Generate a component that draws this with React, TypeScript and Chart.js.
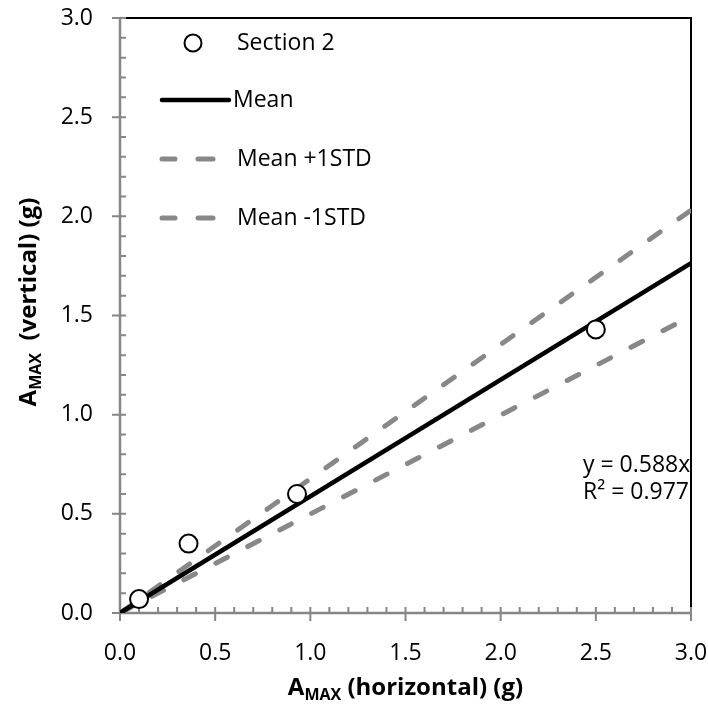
import React, { useEffect, useRef } from "react";
import { Chart, registerables } from "chart.js";

Chart.register(...registerables);

const sectionX = [0.1, 0.36, 0.93, 2.5];
const sectionY = [0.07, 0.35, 0.6, 1.43];
const lineX = [0, 3];
const meanSlope = 0.588;
const plusSlope = 0.677;
const minusSlope = 0.499;
const tickValues = [0, 0.5, 1.0, 1.5, 2.0, 2.5, 3.0];
const legendLabels = ["Section 2", "Mean", "Mean +1STD", "Mean -1STD"];
const eqText = "y = 0.588x";
const r2Text = "R² = 0.977";

const FONT = "'Open Sans', 'Noto Sans', sans-serif";
const GRAY = "#868686";
const DASH = [13, 23];

const overlay = {
  id: "overlay",
  beforeDatasetsDraw(chart: any) {
    const { ctx, chartArea: a, scales } = chart;
    const xs = scales.x;
    const ys = scales.y;
    ctx.save();
    ctx.strokeStyle = "#000";
    ctx.lineWidth = 2;
    ctx.beginPath();
    ctx.moveTo(a.left, a.top);
    ctx.lineTo(a.right, a.top);
    ctx.lineTo(a.right, a.bottom);
    ctx.stroke();
    ctx.strokeStyle = GRAY;
    ctx.lineWidth = 2.5;
    ctx.beginPath();
    ctx.moveTo(a.left, a.top);
    ctx.lineTo(a.left, a.bottom);
    ctx.lineTo(a.right, a.bottom);
    ctx.stroke();
    ctx.lineWidth = 2;
    ctx.beginPath();
    for (let i = 0; i <= 30; i++) {
      const v = i / 10;
      const major = i % 5 === 0;
      const px = xs.getPixelForValue(v);
      ctx.moveTo(px, a.bottom - 6);
      ctx.lineTo(px, a.bottom + (major ? 8 : 0));
      const py = ys.getPixelForValue(v);
      ctx.moveTo(a.left + 6, py);
      ctx.lineTo(a.left - (major ? 8 : 0), py);
    }
    ctx.stroke();
    ctx.restore();
  },
  afterDraw(chart: any) {
    const { ctx, chartArea: a } = chart;
    ctx.save();
    ctx.fillStyle = "#000";
    ctx.textBaseline = "middle";
    ctx.font = `23px ${FONT}`;
    const rows = [43, 100, 159, 218];
    ctx.beginPath();
    ctx.arc(193, rows[0], 8.5, 0, Math.PI * 2);
    ctx.fillStyle = "#fff";
    ctx.fill();
    ctx.strokeStyle = "#000";
    ctx.lineWidth = 2;
    ctx.stroke();
    ctx.fillStyle = "#000";
    ctx.fillText(legendLabels[0], 237, rows[0]);
    ctx.lineCap = "round";
    ctx.strokeStyle = "#000";
    ctx.lineWidth = 4.5;
    ctx.beginPath();
    ctx.moveTo(162, rows[1]);
    ctx.lineTo(229, rows[1]);
    ctx.stroke();
    ctx.fillText(legendLabels[1], 233, rows[1]);
    for (let k = 2; k < 4; k++) {
      ctx.strokeStyle = "#888888";
      ctx.lineWidth = 5;
      ctx.beginPath();
      ctx.moveTo(162, rows[k]);
      ctx.lineTo(175, rows[k]);
      ctx.moveTo(198, rows[k]);
      ctx.lineTo(213, rows[k]);
      ctx.stroke();
      ctx.fillText(legendLabels[k], 237, rows[k]);
    }
    ctx.fillText(eqText, 583, 465);
    ctx.fillText(r2Text, 583, 492);
    ctx.textBaseline = "alphabetic";
    const big = `bold 24px ${FONT}`;
    const small = `bold 16px ${FONT}`;
    const drawTitle = (rest: string, cx: number, cy: number) => {
      ctx.font = big;
      const wA = ctx.measureText("A").width;
      const wR = ctx.measureText(rest).width;
      ctx.font = small;
      const wS = ctx.measureText("MAX").width;
      const total = wA + wS + wR;
      let x = cx - total / 2;
      ctx.font = big;
      ctx.fillText("A", x, cy);
      x += wA;
      ctx.font = small;
      ctx.fillText("MAX", x, cy + 5);
      x += wS;
      ctx.font = big;
      ctx.fillText(rest, x, cy);
    };
    drawTitle(" (horizontal) (g)", (a.left + a.right) / 2, 695);
    ctx.save();
    ctx.translate(36, 302);
    ctx.rotate(-Math.PI / 2);
    drawTitle("  (vertical) (g)", 0, 0);
    ctx.restore();
    ctx.restore();
  },
};

const zeroPad = (s: any) => {
  s.paddingTop = 0;
  s.paddingBottom = 0;
  s.paddingLeft = 0;
  s.paddingRight = 0;
};

export default function App() {
  const ref = useRef<HTMLCanvasElement>(null);
  useEffect(() => {
    const pts = sectionX.map((x, i) => ({ x, y: sectionY[i] }));
    const mk = (s: number) => lineX.map((x) => ({ x, y: s * x }));
    const chart = new Chart(ref.current!, {
      type: "scatter",
      data: {
        datasets: [
          {
            label: legendLabels[0],
            data: pts,
            pointRadius: 9,
            pointBorderWidth: 2,
            pointBorderColor: "#000",
            pointBackgroundColor: "#fff",
            showLine: false,
            order: 0,
          },
          {
            label: legendLabels[1],
            data: mk(meanSlope),
            showLine: true,
            borderColor: "#000",
            borderWidth: 4.5,
            pointRadius: 0,
            order: 1,
          },
          {
            label: legendLabels[2],
            data: mk(plusSlope),
            showLine: true,
            borderColor: "#888888",
            borderWidth: 5,
            borderDash: DASH,
            borderCapStyle: "round",
            pointRadius: 0,
            order: 2,
          },
          {
            label: legendLabels[3],
            data: mk(minusSlope),
            showLine: true,
            borderColor: "#888888",
            borderWidth: 5,
            borderDash: DASH,
            borderCapStyle: "round",
            pointRadius: 0,
            order: 3,
          },
        ],
      } as any,
      options: {
        animation: false,
        responsive: false,
        layout: { padding: { top: 18, right: 17, left: 0, bottom: 0 } },
        plugins: { legend: { display: false }, tooltip: { enabled: false } },
        scales: {
          x: {
            type: "linear",
            min: 0,
            max: 3,
            afterFit: (s: any) => {
              s.height = 91;
              zeroPad(s);
            },
            afterBuildTicks: (s: any) => {
              s.ticks = tickValues.map((v) => ({ value: v }));
            },
            ticks: {
              font: { family: FONT, size: 23 },
              color: "#000",
              padding: 27,
              maxRotation: 0,
              callback: (v: any) => Number(v).toFixed(1),
            },
            grid: { display: false, drawTicks: false },
            border: { display: false },
          },
          y: {
            type: "linear",
            min: 0,
            max: 3,
            afterFit: (s: any) => {
              s.width = 120;
              zeroPad(s);
            },
            afterBuildTicks: (s: any) => {
              s.ticks = tickValues.map((v) => ({ value: v }));
            },
            ticks: {
              font: { family: FONT, size: 23 },
              color: "#000",
              padding: 27,
              callback: (v: any) => Number(v).toFixed(1),
            },
            grid: { display: false, drawTicks: false },
            border: { display: false },
          },
        },
      } as any,
      plugins: [overlay],
    });
    return () => chart.destroy();
  }, []);
  return (
    <div style={{ position: "fixed", left: 0, top: 0, width: 708, height: 704, background: "#fff" }}>
      <canvas ref={ref} width={708} height={704} style={{ width: 708, height: 704 }} />
    </div>
  );
}
